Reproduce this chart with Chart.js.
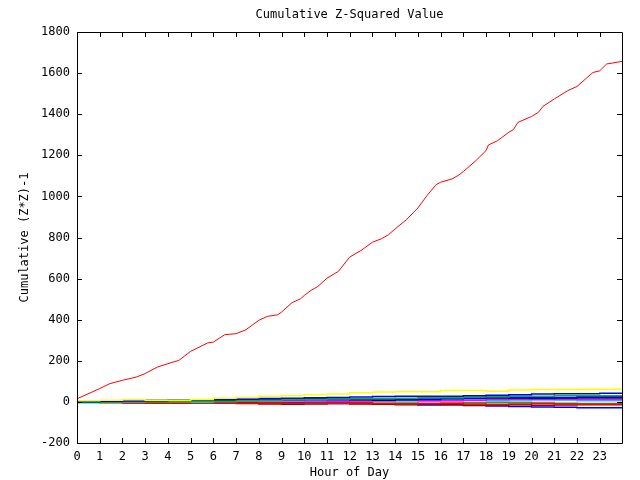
<!DOCTYPE html>
<html>
<head>
<meta charset="utf-8">
<script src="https://cdn.jsdelivr.net/npm/chart.js@4/dist/chart.umd.min.js"></script>
<style>
html,body{margin:0;padding:0;background:#fff;}
#wrap{width:640px;height:480px;}
</style>
</head>
<body>
<div id="wrap"><canvas id="c" width="640" height="480"></canvas></div>
<script>
const chartTitle = "Cumulative Z-Squared Value";
const xTitle = "Hour of Day";
const yTitle = "Cumulative (Z*Z)-1";
const yTicks = [-200, 0, 200, 400, 600, 800, 1000, 1200, 1400, 1600, 1800];
const xTickHours = [0,1,2,3,4,5,6,7,8,9,10,11,12,13,14,15,16,17,18,19,20,21,22,23];

// main (red) series
const mainHours = [0,1.0,1.45,2.0,2.61,3.0,3.55,4.0,4.48,5.0,5.75,6.0,6.5,7.0,7.43,7.74,8.0,8.37,8.83,9.0,9.46,9.84,10.0,10.3,10.6,11.0,11.5,12.0,12.5,13.0,13.4,13.7,14.0,14.5,15.0,15.4,15.8,16.0,16.5,16.8,17.0,17.55,18.0,18.1,18.5,19.0,19.2,19.4,20.0,20.3,20.5,21.0,21.6,22.0,22.4,22.7,23.0,23.3,23.98];
const mainValues = [15,65,89,105,121,138,170,186,202,246,287,291,327,332,351,376,397,416,424,437,483,502,518,543,562,602,635,705,737,777,794,813,842,887,944,1004,1057,1069,1085,1104,1121,1174,1223,1250,1271,1312,1325,1360,1389,1409,1438,1474,1515,1535,1574,1603,1611,1644,1657];

// minor series, sampled hourly
const minorHours = [0,1,2,3,4,5,6,7,8,9,10,11,12,13,14,15,16,17,18,19,20,21,22,23,23.98];
const yellowVals   = [2,5,8,10,8,8,12,18,22,28,30,35,38,45,48,50,50,55,55,52,58,60,60,62,62];
const blueHiVals   = [0,1,3,4,6,8,10,12,14,16,18,20,22,24,26,27,28,28,30,32,35,38,40,40,42];
const greenHiVals  = [0,0,0,1,1,2,2,3,5,8,10,12,14,15,16,18,20,20,24,25,28,28,30,30,30];
const blueMidVals  = [0,0,2,4,6,5,8,8,10,10,12,12,12,14,15,15,14,16,18,20,22,20,22,25,25];
const navyVals     = [2,3,5,6,8,8,10,10,8,10,12,14,12,10,8,10,12,15,18,20,18,16,18,20,20];
const magentaVals  = [0,-2,0,2,3,2,4,5,4,6,5,4,3,5,6,8,6,5,8,10,12,14,12,10,10];
const cyanVals     = [-2,-5,-3,0,2,1,0,2,4,6,5,4,6,8,7,6,8,10,8,6,8,10,8,6,6];
const lightBlueVals= [0,2,3,4,3,5,6,6,7,6,5,6,8,9,10,8,9,10,11,12,13,14,15,13,13];
const redLowVals   = [0,-2,-4,-5,-6,-5,-4,-6,-5,-4,-6,-8,-6,-5,-8,-10,-8,-6,-10,-12,-10,-8,-10,-12,-12];
const darkRedVals  = [0,-1,-2,-4,-5,-6,-4,-5,-8,-10,-12,-10,-8,-10,-12,-14,-12,-14,-16,-15,-14,-16,-15,-14,-14];
const blueLowVals  = [0,-1,-2,-3,-2,-4,-3,-5,-4,-3,-5,-6,-8,-7,-10,-12,-15,-14,-18,-20,-22,-25,-26,-28,-28];
const greenLowVals = [0,-2,-3,-2,-4,-5,-4,-3,-5,-6,-4,-5,-6,-8,-6,-5,-8,-6,-4,-2,-3,-5,-6,-8,-8];
const pinkVals     = [1,0,2,1,3,4,2,3,5,4,3,2,4,6,5,4,3,5,6,4,5,6,8,7,7];
const darkGreenVals= [0,0,-1,0,1,2,1,0,2,3,2,1,0,2,4,6,8,10,12,14,12,10,12,14,14];

const minorSeries = [
  ["yellow", yellowVals, "#ffff00"],
  ["blueHi", blueHiVals, "#0000ff"],
  ["greenHi", greenHiVals, "#00c000"],
  ["blueMid", blueMidVals, "#0000ff"],
  ["navy", navyVals, "#0000a0"],
  ["magenta", magentaVals, "#ff00ff"],
  ["cyan", cyanVals, "#00ffff"],
  ["lightBlue", lightBlueVals, "#8080ff"],
  ["redLow", redLowVals, "#ff0000"],
  ["darkRed", darkRedVals, "#a00000"],
  ["blueLow", blueLowVals, "#0000ff"],
  ["greenLow", greenLowVals, "#00c000"],
  ["pink", pinkVals, "#ff80ff"],
  ["darkGreen", darkGreenVals, "#008000"]
];

const toPts = (xs, ys) => xs.map((x, i) => ({x: x, y: ys[i]}));

const datasets = minorSeries.map(s => ({
  label: s[0],
  data: toPts(minorHours, s[1]),
  borderColor: s[2],
  borderWidth: 1.5,
  pointRadius: 0,
  stepped: 'after',
  fill: false
}));
datasets.push({
  label: "main",
  data: toPts(mainHours, mainValues),
  borderColor: "#ff0000",
  borderWidth: 1,
  pointRadius: 0,
  tension: 0,
  fill: false
});

const FONT = "DejaVu Sans Mono";

const frameTicks = {
  id: 'frameTicks',
  afterDatasetsDraw(chart) {
    const ctx = chart.ctx, a = chart.chartArea;
    const xs = chart.scales.x, ys = chart.scales.y;
    ctx.save();
    ctx.strokeStyle = '#000';
    ctx.lineWidth = 1;
    ctx.beginPath();
    ctx.rect(Math.round(a.left) + 0.5, Math.round(a.top) + 0.5, Math.round(a.right - a.left), Math.round(a.bottom - a.top));
    const L = 5;
    xTickHours.forEach(h => {
      const px = Math.round(xs.getPixelForValue(h)) + 0.5;
      ctx.moveTo(px, a.bottom); ctx.lineTo(px, a.bottom - L);
      ctx.moveTo(px, a.top); ctx.lineTo(px, a.top + L);
    });
    yTicks.forEach(v => {
      const py = Math.round(ys.getPixelForValue(v)) + 0.5;
      ctx.moveTo(a.left, py); ctx.lineTo(a.left + L, py);
      ctx.moveTo(a.right, py); ctx.lineTo(a.right - L, py);
    });
    ctx.stroke();
    ctx.restore();
  }
};

new Chart(document.getElementById('c'), {
  type: 'line',
  data: { datasets: datasets },
  options: {
    responsive: false,
    animation: false,
    events: [],
    layout: { padding: { left: 0, right: 18, top: 0, bottom: 0 } },
    plugins: {
      legend: { display: false },
      tooltip: { enabled: false },
      title: {
        display: true,
        fullSize: false,
        text: chartTitle,
        color: '#000',
        font: { family: FONT, size: 12, weight: 'normal' },
        padding: { top: 8, bottom: 9.6 }
      }
    },
    scales: {
      x: {
        type: 'linear',
        min: 0,
        max: 23.98,
        grid: { display: false, drawTicks: false },
        border: { display: false },
        afterFit(scale) { scale.height = 37; },
        afterBuildTicks(scale) { scale.ticks = xTickHours.map(v => ({value: v})); },
        ticks: {
          color: '#000',
          font: { family: FONT, size: 12 },
          padding: 7,
          maxRotation: 0,
          autoSkip: false,
          callback: v => String(v)
        },
        title: {
          display: true,
          text: xTitle,
          color: '#000',
          font: { family: FONT, size: 12 },
          padding: { top: 2, bottom: 0 }
        }
      },
      y: {
        type: 'linear',
        min: -200,
        max: 1800,
        grid: { display: false, drawTicks: false },
        border: { display: false },
        afterFit(scale) { scale.width = 77; },
        afterBuildTicks(scale) { scale.ticks = yTicks.map(v => ({value: v})); },
        ticks: {
          color: '#000',
          font: { family: FONT, size: 12 },
          padding: 7,
          callback: v => String(v)
        },
        title: {
          display: true,
          text: yTitle,
          color: '#000',
          font: { family: FONT, size: 12 },
          padding: { top: 18, bottom: 0 }
        }
      }
    }
  },
  plugins: [frameTicks]
});
</script>
</body>
</html>
